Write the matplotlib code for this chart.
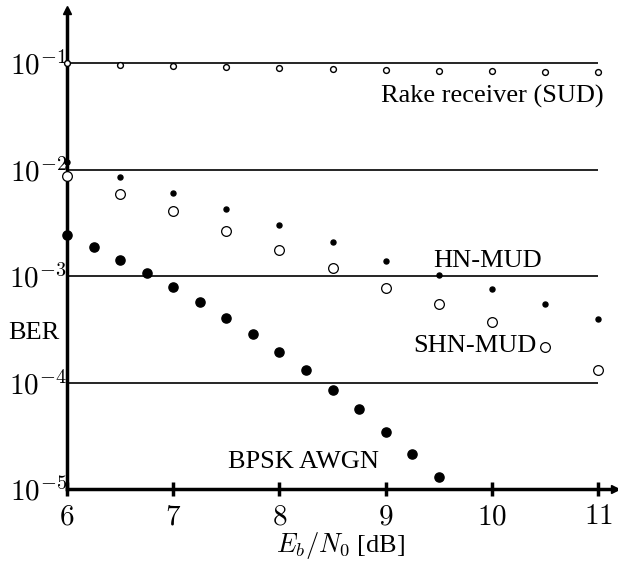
import numpy as np
import matplotlib
matplotlib.use('Agg')
import matplotlib.pyplot as plt
from matplotlib.ticker import FixedLocator, FixedFormatter

plt.rcParams['font.family'] = ['Liberation Serif', 'DejaVu Serif']
plt.rcParams['mathtext.fontset'] = 'cm'

# values
snr_coarse = [6, 6.5, 7, 7.5, 8, 8.5, 9, 9.5, 10, 10.5, 11]
rake = [0.1, 0.0958, 0.0937, 0.0917, 0.0898, 0.0878, 0.086, 0.0841, 0.0841, 0.0823, 0.0823]
hn_mud = [0.01175, 0.0085, 0.0060, 0.00426, 0.00301, 0.00208, 0.00138, 0.00102, 0.000755, 0.00055, 0.000398]
shn_mud = [0.00869, 0.00593, 0.00407, 0.00265, 0.00175, 0.00118, 0.000776, 0.000542, 0.000367, 0.000217, 0.000131]

snr_fine = [6, 6.25, 6.5, 6.75, 7, 7.25, 7.5, 7.75, 8, 8.25, 8.5, 8.75, 9, 9.25, 9.5]
bpsk = [0.00243, 0.00187, 0.00142, 0.00107, 0.000792, 0.000574, 0.000406, 0.000287,
        0.000195, 0.000132, 0.0000851, 0.000056, 0.0000345, 0.0000212, 0.0000129]

xticks = [6, 7, 8, 9, 10, 11]
decades = [1e-1, 1e-2, 1e-3, 1e-4, 1e-5]
ylabels = ['$10^{-1}$', '$10^{-2}$', '$10^{-3}$', '$10^{-4}$', '$10^{-5}$']

fig = plt.figure(figsize=(6.18, 5.62), dpi=100)
ax = fig.add_axes([67/618, 73/562, 548/618, 479/562])
ax.set_yscale('log')
ax.set_xlim(6, 11.16)
ax.set_ylim(1e-5, 10**-0.5)

# grid lines at decades
ax.hlines(decades[:-1], 6, 11, color='black', lw=1.2, zorder=1)

ax.plot(snr_coarse, rake, 'o', ms=4.2, mfc='white', mec='black', mew=1.0, clip_on=False, zorder=3)
ax.plot(snr_coarse, hn_mud, 'o', ms=3.6, color='black', clip_on=False, zorder=3)
ax.plot(snr_coarse, shn_mud, 'o', ms=7, mfc='white', mec='black', mew=0.9, clip_on=False, zorder=3)
ax.plot(snr_fine, bpsk, 'o', ms=6.6, color='black', clip_on=False, zorder=3)

ax.text(11.05, 0.049, 'Rake receiver (SUD)', fontsize=19, ha='right', va='center')
ax.text(9.96, 0.0014, 'HN-MUD', fontsize=19, ha='center', va='center')
ax.text(10.42, 0.00022, 'SHN-MUD', fontsize=19, ha='right', va='center')
ax.text(8.23, 1.8e-5, 'BPSK AWGN', fontsize=19, ha='center', va='center')

for s in ['top', 'right']:
    ax.spines[s].set_visible(False)
for s in ['left', 'bottom']:
    ax.spines[s].set_linewidth(2.5)

# arrow heads
ax.plot(1, 0, '>', color='black', ms=6, transform=ax.transAxes, clip_on=False)
ax.plot(0, 1, '^', color='black', ms=6, transform=ax.transAxes, clip_on=False)

ax.xaxis.set_major_locator(FixedLocator(xticks))
ax.xaxis.set_major_formatter(FixedFormatter(['$%d$' % t for t in xticks]))
ax.tick_params(axis='x', direction='inout', length=10, width=2.5, pad=6, labelsize=21)

ax.yaxis.set_major_locator(FixedLocator(decades))
ax.yaxis.set_major_formatter(FixedFormatter(ylabels))
ax.yaxis.set_minor_locator(FixedLocator([]))
ax.tick_params(axis='y', length=0, pad=0, labelsize=21)

ax.set_xlabel('$E_b/N_0$ [dB]', fontsize=19, labelpad=0)
fig.text(8/618, 1 - 333/562, 'BER', fontsize=19, ha='left', va='center')

fig.savefig('out.png', dpi=100)
